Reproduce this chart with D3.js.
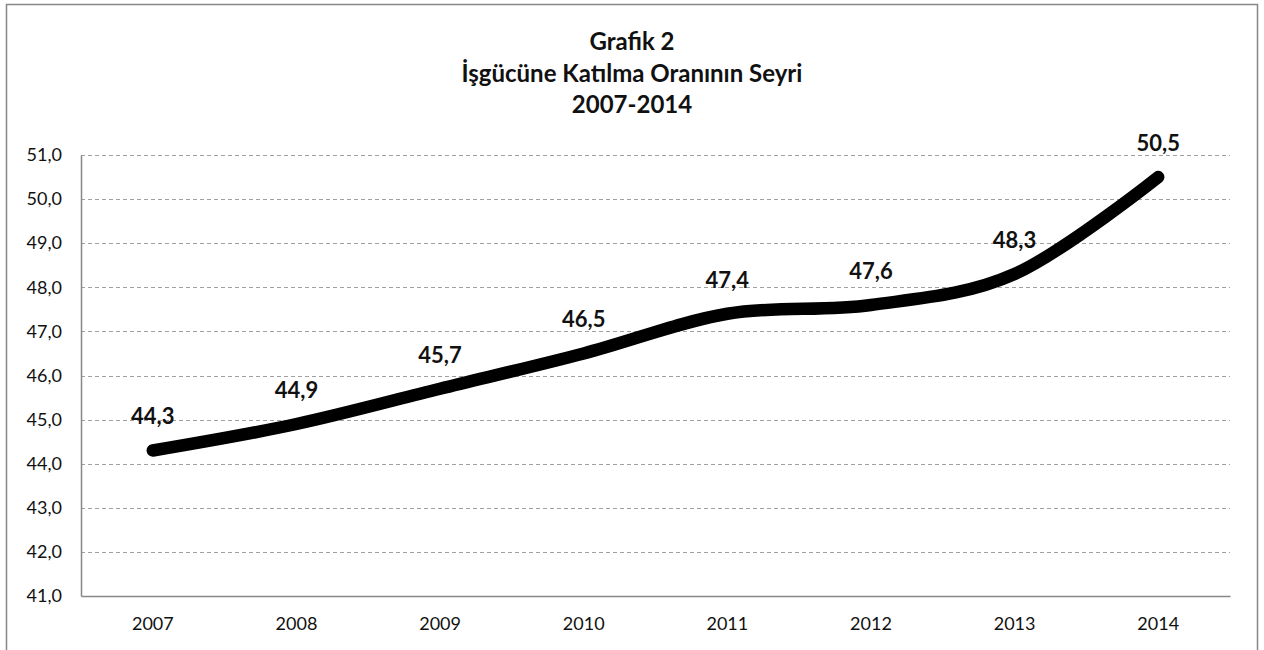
<!DOCTYPE html>
<html>
<head>
<meta charset="utf-8">
<script src="https://cdn.jsdelivr.net/npm/d3@7"></script>
<style>
  html, body { margin: 0; padding: 0; background: #fff; }
  svg { display: block; font-family: Lato, "Open Sans", sans-serif; }
</style>
</head>
<body>
<div id="chart"></div>
<script>
// chart data
const years = ['2007', '2008', '2009', '2010', '2011', '2012', '2013', '2014'];
const rates = [44.3, 44.9, 45.7, 46.5, 47.4, 47.6, 48.3, 50.5];
const yTicks = [41, 42, 43, 44, 45, 46, 47, 48, 49, 50, 51];
const titleLines = ['Grafik 2', 'İşgücüne Katılma Oranının Seyri', '2007-2014'];

const width = 1264, height = 650;
const margin = { top: 155, right: 34, bottom: 54, left: 81 };

const svg = d3.select('#chart').append('svg')
    .attr('width', width)
    .attr('height', height);

// outer frame
svg.append('rect')
    .attr('x', 6.5).attr('y', 4.5)
    .attr('width', 1251).attr('height', 660)
    .attr('fill', 'none')
    .attr('stroke', '#878787')
    .attr('stroke-width', 1.5);

// title
svg.append('g').selectAll('text')
    .data(titleLines)
    .join('text')
    .attr('x', 632)
    .attr('y', (d, i) => 50 + i * 31.5)
    .attr('text-anchor', 'middle')
    .attr('font-size', 24)
    .attr('font-weight', 'bold')
    .attr('fill', '#111')
    .text(d => d);

const x = d3.scaleBand()
    .domain(years)
    .range([margin.left, width - margin.right]);

const y = d3.scaleLinear()
    .domain([41, 51])
    .range([height - margin.bottom, margin.top]);

// gridlines
svg.append('g').selectAll('line')
    .data(yTicks.filter(d => d > 41))
    .join('line')
    .attr('x1', margin.left)
    .attr('x2', width - margin.right)
    .attr('y1', d => Math.round(y(d)) + 0.5)
    .attr('y2', d => Math.round(y(d)) + 0.5)
    .attr('stroke', '#a0a0a0')
    .attr('stroke-dasharray', '4,3');

// y axis
const yAxis = svg.append('g')
    .attr('transform', `translate(${margin.left},0)`)
    .call(d3.axisLeft(y).tickValues(yTicks).tickSize(0).tickPadding(19)
        .tickFormat(d => d3.format('.1f')(d).replace('.', ',')));
yAxis.select('.domain').attr('stroke', '#878787').attr('stroke-width', 1.5);
yAxis.selectAll('text').attr('font-size', 18).attr('fill', '#111')
    .attr('font-family', 'Lato, "Open Sans", sans-serif');

// x axis
const xAxis = svg.append('g')
    .attr('transform', `translate(0,${height - margin.bottom})`)
    .call(d3.axisBottom(x).tickSize(0).tickPadding(21));
xAxis.select('.domain').attr('stroke', '#878787').attr('stroke-width', 1.5);
xAxis.selectAll('text').attr('font-size', 18).attr('fill', '#111')
    .attr('font-family', 'Lato, "Open Sans", sans-serif');

// smoothed line
const line = d3.line()
    .x((d, i) => x(years[i]) + x.bandwidth() / 2)
    .y(d => y(d))
    .curve(d3.curveCardinal.tension(0));

svg.append('path')
    .datum(rates)
    .attr('d', line)
    .attr('fill', 'none')
    .attr('stroke', '#000')
    .attr('stroke-width', 12.5)
    .attr('stroke-linecap', 'round')
    .attr('stroke-linejoin', 'round');

// value labels
svg.append('g').selectAll('text')
    .data(rates)
    .join('text')
    .attr('x', (d, i) => x(years[i]) + x.bandwidth() / 2)
    .attr('y', d => y(d) - 26)
    .attr('text-anchor', 'middle')
    .attr('font-size', 22)
    .attr('font-weight', 'bold')
    .attr('fill', '#111')
    .text(d => d3.format('.1f')(d).replace('.', ','));
</script>
</body>
</html>
